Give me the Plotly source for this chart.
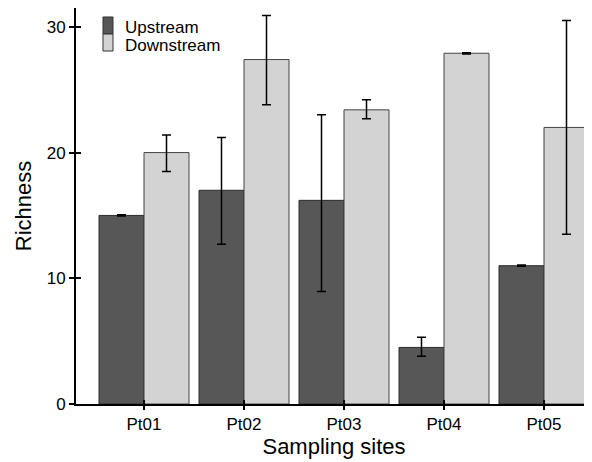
import plotly.graph_objects as go

sites = ["Pt01", "Pt02", "Pt03", "Pt04", "Pt05"]
upstream = [15.0, 17.0, 16.2, 4.5, 11.0]
upstream_hi = [15.05, 21.2, 23.0, 5.3, 11.05]
upstream_lo = [14.95, 12.7, 8.95, 3.8, 10.95]
downstream = [20.0, 27.4, 23.4, 27.9, 22.0]
downstream_hi = [21.4, 30.9, 24.2, 27.95, 30.5]
downstream_lo = [18.5, 23.8, 22.7, 27.85, 13.5]
series_names = ["Upstream", "Downstream"]
series_colors = ["#575757", "#d3d3d3"]
series_edges = ["#2a2a2a", "#444444"]

font_family = "Liberation Sans, Arial, Helvetica, sans-serif"

def err(vals, hi, lo):
    return dict(type="data", symmetric=False,
                array=[h - v for h, v in zip(hi, vals)],
                arrayminus=[v - l for v, l in zip(vals, lo)],
                color="black", thickness=1.5, width=4.5)

fig = go.Figure()
for name, vals, hi, lo, col, edge in zip(series_names, [upstream, downstream],
                                         [upstream_hi, downstream_hi],
                                         [upstream_lo, downstream_lo],
                                         series_colors, series_edges):
    fig.add_trace(go.Bar(name=name, x=sites, y=vals,
                         marker=dict(color=col, line=dict(color=edge, width=1)),
                         error_y=err(vals, hi, lo)))
# invisible trace to draw cross ticks on overlay axes
fig.add_trace(go.Scatter(x=sites, y=[None] * len(sites), xaxis="x2", yaxis="y2",
                         showlegend=False, hoverinfo="skip"))

# compact legend (boxes stacked, as in the reference)
box_x0, box_x1 = 0.0523, 0.0717
box_edges_y = [0.9773, 0.9343, 0.8914]
text_y = [0.9520, 0.9055]
for i, (name, col) in enumerate(zip(series_names, series_colors)):
    fig.add_shape(type="rect", xref="paper", yref="paper",
                  x0=box_x0, x1=box_x1, y0=box_edges_y[i + 1], y1=box_edges_y[i],
                  fillcolor=col, line=dict(color="#333333", width=1))
    fig.add_annotation(xref="paper", yref="paper", x=0.093, y=text_y[i],
                       text=name, showarrow=False, xanchor="left", yanchor="middle",
                       font=dict(size=17), borderpad=0)

fig.update_layout(
    width=584, height=454,
    margin=dict(l=68, r=0, t=0, b=58, autoexpand=False),
    paper_bgcolor="white", plot_bgcolor="white",
    barmode="group", bargap=0.1, bargroupgap=0,
    font=dict(family=font_family, color="black", size=17),
    showlegend=False,
    xaxis=dict(range=[-0.68, 4.48], showline=True, linecolor="black", linewidth=2,
               ticks="outside", ticklen=4, tickwidth=1.5, tickcolor="black",
               tickfont=dict(size=17), automargin=False,
               title=dict(text="Sampling sites", font=dict(size=22), standoff=3),
               showgrid=False, zeroline=False),
    yaxis=dict(range=[0, 31.5], showline=True, linecolor="black", linewidth=2,
               ticks="outside", ticklen=5, tickwidth=1.5, tickcolor="black",
               tickvals=[0, 10, 20, 30], tickfont=dict(size=17), automargin=False,
               title=dict(text="Richness", font=dict(size=22), standoff=9),
               showgrid=False, zeroline=False),
    xaxis2=dict(overlaying="x", matches="x", ticks="inside", ticklen=4, tickwidth=1.5,
                tickcolor="black", showticklabels=False, showline=False, showgrid=False,
                zeroline=False, anchor="y2", side="bottom"),
    yaxis2=dict(overlaying="y", matches="y", ticks="inside", ticklen=5, tickwidth=1.5,
                tickcolor="black", tickvals=[0, 10, 20, 30], showticklabels=False,
                showline=False, showgrid=False, zeroline=False, anchor="x2", side="left"),
)

fig.write_html("out.html")
